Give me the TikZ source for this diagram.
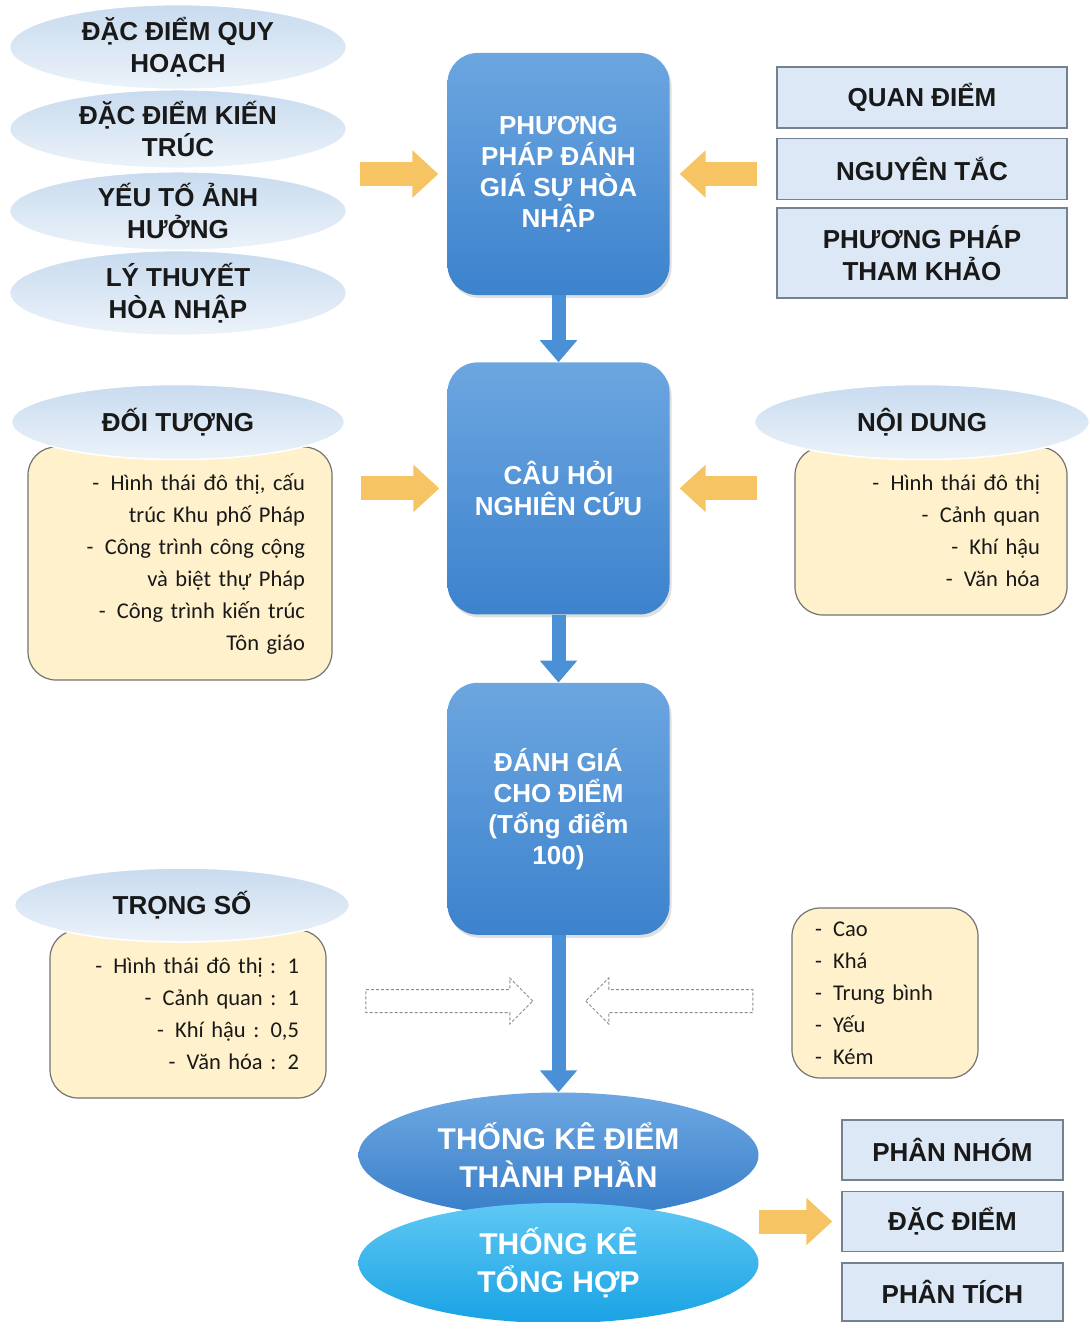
\documentclass[tikz,border=0pt]{standalone}
\usepackage{fontspec}
\setmainfont{Liberation Sans}
\newfontfamily\listfont{Carlito}
\usetikzlibrary{arrows.meta, positioning, shapes.geometric, shapes.arrows, shadows}
\definecolor{boxtop}{RGB}{108,166,224}
\definecolor{boxbot}{RGB}{60,130,205}
\definecolor{flowblue}{RGB}{74,144,214}
\definecolor{paleblue}{RGB}{220,232,245}
\definecolor{ellblue}{RGB}{200,219,239}
\definecolor{noteyellow}{RGB}{255,241,204}
\definecolor{arrowyellow}{RGB}{246,196,98}
\definecolor{edgegray}{RGB}{115,130,145}
\definecolor{sumtop}{RGB}{110,168,226}
\definecolor{sumbot}{RGB}{55,125,200}
\definecolor{cyantop}{RGB}{95,200,244}
\definecolor{cyanbot}{RGB}{25,162,228}

\begin{document}
\begin{tikzpicture}[x=1pt, y=-1pt,
    topic/.style={ellipse, draw=white, line width=1.5pt, top color=ellblue, bottom color=ellblue!35!white, minimum width=337pt, minimum height=76pt, inner sep=0pt, align=center, text=black!90, font=\bfseries\fontsize{26}{32}\selectfont},
    mainbox/.style={rectangle, rounded corners=30pt, top color=boxtop, bottom color=boxbot, minimum width=222pt, minimum height=252pt, align=center, text=white, font=\bfseries\fontsize{26}{31}\selectfont, drop shadow={opacity=0.25, shadow xshift=2pt, shadow yshift=-3pt}},
    refbox/.style={rectangle, draw=edgegray, line width=1.5pt, fill=paleblue, minimum height=61pt, align=center, text=black!90, font=\bfseries\fontsize{26}{32}\selectfont},
    notebox/.style={rectangle, rounded corners=28pt, draw=black!55, line width=1.2pt, fill=noteyellow, align=right, inner xsep=27pt, text=black!90, font=\listfont\fontsize{22.5}{32}\selectfont},
    sumell/.style={ellipse, minimum width=400pt, inner sep=0pt, align=center, text=white, font=\bfseries\fontsize{30}{38}\selectfont},
    yarrow/.style={line width=24pt, arrowyellow, -{Triangle[width=46pt, length=26pt]}},
    flow/.style={line width=14pt, flowblue, -{Triangle[width=36pt, length=22pt]}},
    hollow/.style={single arrow, draw=black!45, dash pattern=on 3pt off 2pt, line width=1pt, fill=white, single arrow head extend=11.5pt, minimum height=167pt, inner sep=0pt}
  ]
    \fill[white] (0,0) rectangle (1091,1322);
    \useasboundingbox (0,0) rectangle (1091,1322);

    % Left topics
    \node[topic] (ell1) at (178,47) {ĐẶC ĐIỂM QUY\\HOẠCH};
    \node[topic] (ell2) at (178,129) {ĐẶC ĐIỂM KIẾN\\TRÚC};
    \node[topic] (ell3) at (178,211) {YẾU TỐ ẢNH\\HƯỞNG};
    \node[topic] (ell4) at (178,293) {LÝ THUYẾT\\HÒA NHẬP};

    % Main column
    \node[mainbox, minimum height=242pt] (ppdg) at (558.5,174) {PHƯƠNG\\PHÁP ĐÁNH\\GIÁ SỰ HÒA\\NHẬP};
    \node[mainbox, below=67pt of ppdg] (chnc) {CÂU HỎI\\NGHIÊN CỨU};
    \node[mainbox, below=68pt of chnc] (dgcd) {ĐÁNH GIÁ\\CHO ĐIỂM\\(Tổng điểm\\100)};

    % Right references
    \node[refbox, minimum width=290pt] (qd) at (922,97.5) {QUAN ĐIỂM};
    \node[refbox, minimum width=290pt, below=9pt of qd] (nt) {NGUYÊN TẮC};
    \node[refbox, minimum width=290pt, minimum height=90pt, below=7pt of nt] (pptk) {PHƯƠNG PHÁP\\THAM KHẢO};

    % Notes
    \node[notebox, text width=250pt, minimum height=233pt] (dtbox) at (180,563.5)
        {-\enspace Hình thái đô thị, cấu\\trúc Khu phố Pháp\\-\enspace Công trình công cộng\\và biệt thự Pháp\\-\enspace Công trình kiến trúc\\Tôn giáo};
    \node[topic, minimum width=333pt, minimum height=75pt] (dt) at (178,422) {ĐỐI TƯỢNG};

    \node[notebox, text width=218pt, minimum height=168pt] (ndbox) at (931,531)
        {-\enspace Hình thái đô thị\\-\enspace Cảnh quan\\-\enspace Khí hậu\\-\enspace Văn hóa};
    \node[topic, minimum width=335pt, minimum height=75pt] (nd) at (922,422) {NỘI DUNG};

    \node[notebox, text width=222pt, minimum height=168pt] (tsbox) at (188,1014)
        {-\enspace Hình thái đô thị : 1\\-\enspace Cảnh quan : 1\\-\enspace Khí hậu : 0,5\\-\enspace Văn hóa : 2};
    \node[topic, minimum width=335pt, minimum height=74pt] (ts) at (182,905) {TRỌNG SỐ};

    \node[notebox, align=left, text width=140pt, inner xsep=23pt, minimum height=170pt] (mucbox) at (885,993)
        {-\enspace Cao\\-\enspace Khá\\-\enspace Trung bình\\-\enspace Yếu\\-\enspace Kém};

    % Statistics
    \node[sumell, minimum height=125pt, top color=sumtop, bottom color=sumbot] (tkdtp) at (558.5,1155) {THỐNG KÊ ĐIỂM\\THÀNH PHẦN};
    \node[sumell, minimum height=120pt, top color=cyantop, bottom color=cyanbot] (tkth) at (558.5,1263) {THỐNG KÊ\\TỔNG HỢP};

    \node[refbox, minimum width=221pt, minimum height=60pt] (pn) at (952.5,1150) {PHÂN NHÓM};
    \node[refbox, minimum width=221pt, minimum height=60pt, below=10pt of pn] (dd) {ĐẶC ĐIỂM};
    \node[refbox, minimum width=221pt, minimum height=58pt, below=10pt of dd] (pt) {PHÂN TÍCH};

    % Flow
    \draw[flow] (ppdg) -- (chnc);
    \draw[flow] (chnc) -- (dgcd);
    \draw[flow] (dgcd) -- (tkdtp);

    \draw[yarrow, shorten <=13pt, shorten >=9pt] (ell2.east |- ppdg.west) -- (ppdg.west);
    \draw[yarrow, shorten <=19pt, shorten >=10pt] (nt.west |- ppdg.east) -- (ppdg.east);
    \draw[yarrow, shorten <=28pt, shorten >=8pt] (dtbox.east |- chnc.west) -- (chnc.west);
    \draw[yarrow, shorten <=37pt, shorten >=10pt] (ndbox.west |- chnc.east) -- (chnc.east);
    \draw[yarrow, shorten >=9pt] (tkdtp.east |- dd.west) -- (dd.west);

    \node[hollow] (wgt) at (443.5,1001) {\rule{0pt}{22pt}};
    \node[hollow, shape border rotate=180] (lvl) at (675,1001) {\rule{0pt}{22pt}};
\end{tikzpicture}
\end{document}
